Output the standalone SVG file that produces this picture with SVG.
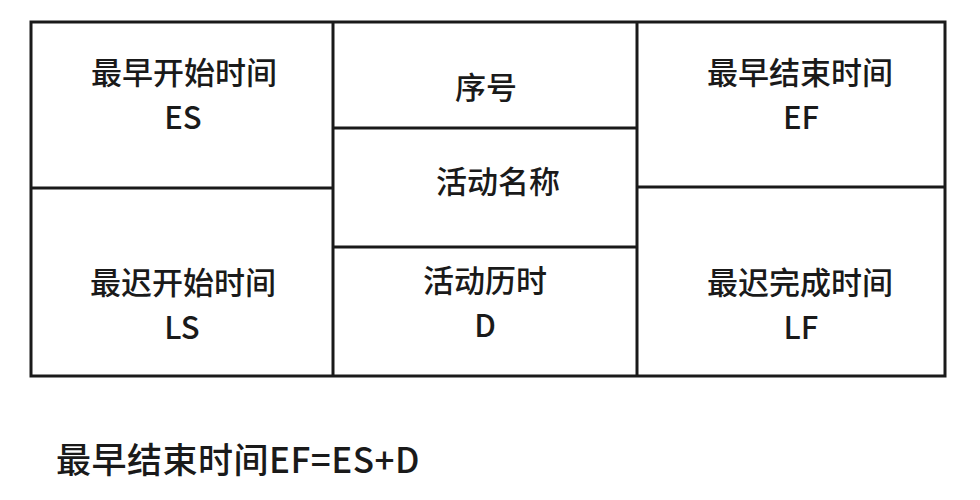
<svg xmlns="http://www.w3.org/2000/svg" width="980" height="500" viewBox="0 0 980 500">
<style>
.ln{stroke:#1a1a1a;stroke-width:3;fill:none}
.t{font-family:"Noto Sans CJK SC","Microsoft YaHei",sans-serif;font-size:31px;font-weight:500;fill:#1a1a1a;text-anchor:middle}
.f{font-family:"Noto Sans CJK SC","Microsoft YaHei",sans-serif;font-size:35px;font-weight:500;fill:#1a1a1a;letter-spacing:0.5px}
</style>
<rect width="980" height="500" fill="#fff"/>
<g id="connectors">
<rect class="ln" x="31" y="22" width="914" height="354"/>
<line class="ln" x1="333" y1="22" x2="333" y2="376"/>
<line class="ln" x1="637" y1="22" x2="637" y2="376"/>
<line class="ln" x1="31" y1="188" x2="333" y2="188"/>
<line class="ln" x1="637" y1="187" x2="945" y2="187"/>
<line class="ln" x1="333" y1="128" x2="637" y2="128"/>
<line class="ln" x1="333" y1="247" x2="637" y2="247"/>
</g>
<g id="es"><text class="t" x="184" y="84">最早开始时间</text><text class="t" x="183" y="129">ES</text></g>
<g id="seq"><text class="t" x="486" y="99">序号</text></g>
<g id="name"><text class="t" x="498" y="193">活动名称</text></g>
<g id="dur"><text class="t" x="485" y="292">活动历时</text><text class="t" x="485" y="337">D</text></g>
<g id="ef"><text class="t" x="800" y="84">最早结束时间</text><text class="t" x="801" y="129">EF</text></g>
<g id="ls"><text class="t" x="183" y="294">最迟开始时间</text><text class="t" x="182" y="339">LS</text></g>
<g id="lf"><text class="t" x="800" y="294">最迟完成时间</text><text class="t" x="801" y="339">LF</text></g>
<g id="formula"><text class="f" x="56" y="473">最早结束时间EF=ES+D</text></g>
</svg>
